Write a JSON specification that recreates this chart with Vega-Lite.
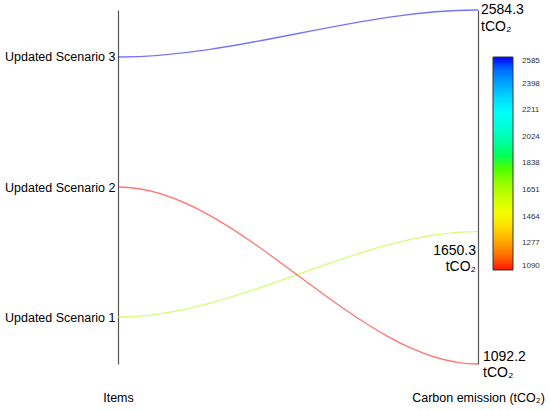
{
  "$schema": "https://vega.github.io/schema/vega-lite/v6.json",
  "width": 360,
  "height": 354,
  "autosize": {"type": "none"},
  "padding": {"left": 118, "top": 10, "right": 72, "bottom": 46},
  "background": "white",
  "config": {"font": "Liberation Sans", "view": {"stroke": null}},
  "data": {
    "values": [
      {"item": "Updated Scenario 1", "scenario": 1, "emission": 1650.3},
      {"item": "Updated Scenario 2", "scenario": 2, "emission": 1092.2},
      {"item": "Updated Scenario 3", "scenario": 3, "emission": 2584.3}
    ]
  },
  "resolve": {"scale": {"y": "independent"}},
  "layer": [
    {
      "mark": {"type": "point", "opacity": 0},
      "encoding": {
        "y": {
          "field": "item",
          "type": "ordinal",
          "scale": {"type": "point", "padding": 0.3615, "domain": ["Updated Scenario 3", "Updated Scenario 2", "Updated Scenario 1"]},
          "axis": {"orient": "left", "title": null, "ticks": false, "grid": false, "labelFontSize": 12.5, "labelColor": "#000", "labelPadding": 3, "domainColor": "#555", "domainWidth": 1.2}
        }
      }
    },
    {
      "layer": [
        {
          "transform": [
            {"joinaggregate": [{"op": "min", "field": "emission", "as": "emin"}, {"op": "max", "field": "emission", "as": "emax"}]},
            {"calculate": "datum.emin + (datum.scenario - 0.6385) / 2.723 * (datum.emax - datum.emin)", "as": "Items"},
            {"fold": ["Items", "emission"], "as": ["axis", "level"]},
            {"calculate": "[0, 0.002]", "as": "off"},
            {"flatten": ["off"]},
            {"calculate": "datum.axis == 'Items' ? datum.off : 1 - datum.off", "as": "pos"}
          ],
          "mark": {"type": "line", "interpolate": "monotone", "strokeWidth": 1.3, "strokeOpacity": 0.55},
          "encoding": {
            "x": {
              "field": "pos",
              "type": "quantitative",
              "scale": {"domain": [0, 1], "nice": false, "zero": false},
              "axis": {"values": [0, 1], "labelExpr": "datum.value == 0 ? 'Items' : 'Carbon emission (tCO₂)'", "title": null, "ticks": false, "domain": false, "grid": false, "labelFontSize": 12.5, "labelColor": "#000", "labelPadding": 27, "labelFlush": false, "labelOverlap": false}
            },
            "y": {
              "field": "level",
              "type": "quantitative",
              "scale": {"zero": false, "nice": false},
              "axis": {"orient": "right", "labels": false, "ticks": false, "grid": false, "title": null, "domainColor": "#555", "domainWidth": 1.2}
            },
            "color": {
              "field": "emission",
              "type": "quantitative",
              "scale": {"domain": [1090, 1463.75, 1837.5, 2211.25, 2585], "range": ["#ff0000", "#ffff00", "#00ff00", "#00ffff", "#0000ff"]},
              "legend": {"orient": "none", "legendX": 375, "legendY": 47, "direction": "vertical", "title": null, "gradientLength": 213, "gradientThickness": 20, "gradientStrokeColor": "#333", "gradientStrokeWidth": 1, "gradientOpacity": 1, "values": [1090, 1277, 1464, 1651, 1838, 2024, 2211, 2398, 2585], "format": "d", "labelFontSize": 8, "labelColor": "#333", "labelOffset": 9, "labelOverlap": false}
            },
            "detail": {"field": "item"}
          }
        },
        {
          "transform": [
            {"filter": "datum.item == 'Updated Scenario 3'"},
            {"calculate": "[format(datum.emission, '.1f'), 'tCO₂']", "as": "label"}
          ],
          "mark": {"type": "text", "align": "left", "baseline": "alphabetic", "dx": 3, "dy": 4, "fontSize": 14, "lineHeight": 17, "color": "#000"},
          "encoding": {
            "x": {"datum": 1, "type": "quantitative"},
            "y": {"field": "emission", "type": "quantitative"},
            "text": {"field": "label"}
          }
        },
        {
          "transform": [
            {"filter": "datum.item == 'Updated Scenario 1'"},
            {"calculate": "[format(datum.emission, '.1f'), 'tCO₂']", "as": "label"}
          ],
          "mark": {"type": "text", "align": "right", "baseline": "alphabetic", "dx": -2, "dy": 23, "fontSize": 14, "lineHeight": 16, "color": "#000"},
          "encoding": {
            "x": {"datum": 1, "type": "quantitative"},
            "y": {"field": "emission", "type": "quantitative"},
            "text": {"field": "label"}
          }
        },
        {
          "transform": [
            {"filter": "datum.item == 'Updated Scenario 2'"},
            {"calculate": "[format(datum.emission, '.1f'), 'tCO₂']", "as": "label"}
          ],
          "mark": {"type": "text", "align": "left", "baseline": "alphabetic", "dx": 5, "dy": -3, "fontSize": 14, "lineHeight": 16, "color": "#000"},
          "encoding": {
            "x": {"datum": 1, "type": "quantitative"},
            "y": {"field": "emission", "type": "quantitative"},
            "text": {"field": "label"}
          }
        }
      ]
    }
  ]
}
